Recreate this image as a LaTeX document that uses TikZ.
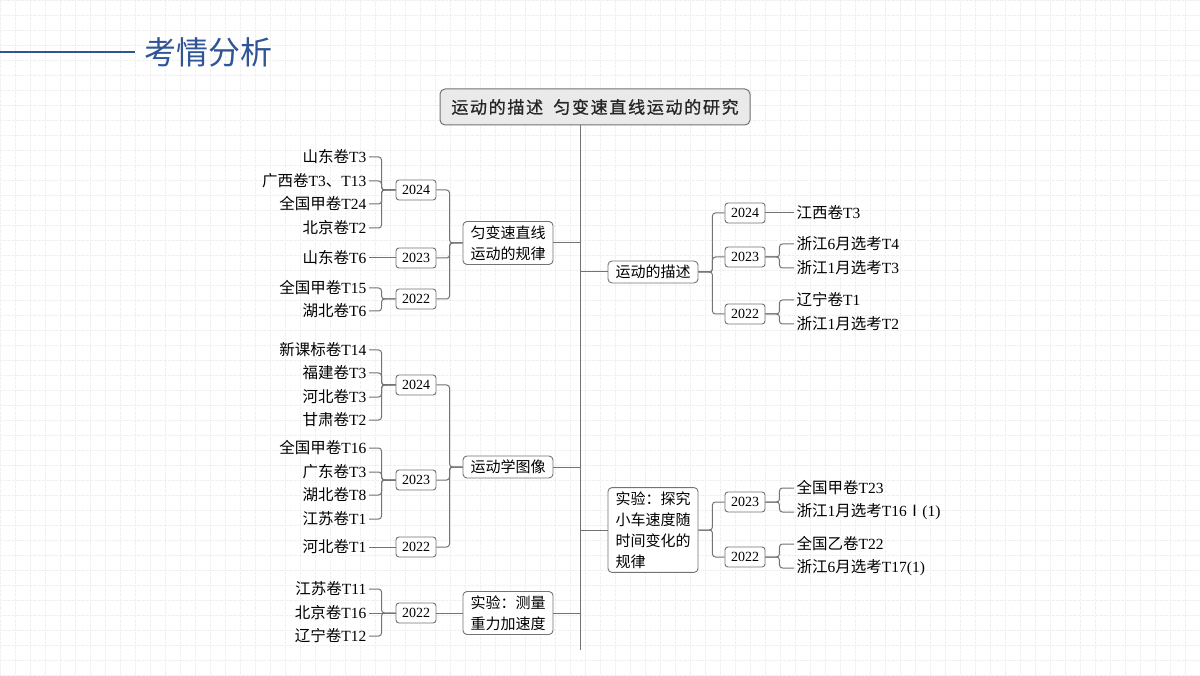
\documentclass[tikz,border=0pt]{standalone}
\usepackage{fontspec}
\setmainfont{Liberation Serif}
\newfontfamily\cjk{Noto Sans CJK SC}
\newfontfamily\cjkroot[LetterSpace=10, FakeBold=1]{Noto Sans CJK SC}
\usetikzlibrary{positioning}
\usetikzlibrary{calc}

\newcommand\zh[1]{{\cjk #1}}
\definecolor{titleblue}{RGB}{47,85,151}
\definecolor{linegray}{RGB}{115,115,115}
\definecolor{rootfill}{RGB}{234,234,234}

\tikzset{
    titletext/.style={font=\cjk\fontsize{32}{36}\selectfont, text=titleblue, inner sep=4pt},
    rootbox/.style={draw=linegray, fill=rootfill, rounded corners=5pt, line width=1pt,
        font=\cjkroot\fontsize{17}{20}\selectfont, text=black!85, minimum width=310pt, minimum height=36pt},
    mainbox/.style={draw=linegray, fill=white, rounded corners=4pt, line width=0.9pt,
        font=\cjk\fontsize{15}{21}\selectfont, align=left, minimum width=90pt, inner xsep=6pt, inner ysep=4pt},
    yearbox/.style={draw=linegray, fill=white, rounded corners=3pt, line width=0.9pt,
        font=\fontsize{14}{16}\selectfont, minimum width=40pt, minimum height=20pt, inner sep=1pt},
    leaf/.style={font=\fontsize{15.5}{17}\selectfont, inner ysep=1pt, inner xsep=2.5pt},
    link/.style={draw=linegray, line width=1pt, rounded corners=3pt},
}

\begin{document}
\begin{tikzpicture}[x=1pt, y=-1pt]
        % Page and faint grid
        \useasboundingbox (0,0) rectangle (1200,676);
        \fill[white] (0,0) rectangle (1200,676);
        \draw[black!6, line width=0.3pt, densely dotted, step=15pt] (0,0) grid (1200,676);

        % Title
        \node[titletext, anchor=west] (title) at (140,52) {考情分析};
        \draw[titleblue, line width=1.5pt, shorten >=5pt] (0,52) -- (title.west);

        % Root and trunk
        \node[rootbox] (root) at (595,107) {运动的描述\hspace{0.6em}匀变速直线运动的研究};
        \coordinate (trunkend) at (580,650);
        \draw[link] (root.south -| trunkend) -- (trunkend);

        % Left 1: uniformly accelerated motion
        \begin{scope}
            \node[mainbox] (gui) at (508,243) {匀变速直线\\运动的规律};
            \draw[link] (gui.east) -- (gui.east -| trunkend);
            \node[yearbox] (gui24) at (416,190) {2024};
            \node[yearbox] (gui23) at (416,258) {2023};
            \node[yearbox] (gui22) at (416,299) {2022};
            \foreach \yr in {gui24,gui23,gui22}
                \draw[link] (gui.west) -- ++(-13,0) |- (\yr.east);
            \foreach \yr/\lf/\y/\kind/\txt in {
                gui24/ga/157/b/{\zh{山东卷}T3},
                gui24/gb/181/b/{\zh{广西卷}T3\zh{、}T13},
                gui24/gc/204/b/{\zh{全国甲卷}T24},
                gui24/gd/228/b/{\zh{北京卷}T2},
                gui23/ge/258/s/{\zh{山东卷}T6},
                gui22/gf/288/b/{\zh{全国甲卷}T15},
                gui22/gg/311/b/{\zh{湖北卷}T6}} {
                \node[leaf, anchor=east] (\lf) at (369,\y) {\txt};
                \if\kind b \draw[link] (\yr.west) -- ++(-14,0) |- (\lf.east);
                \else \draw[link] (\yr.west) -- (\lf.east); \fi
            }
        \end{scope}

        % Left 2: motion graphs
        \begin{scope}
            \node[mainbox] (tux) at (508,467) {运动学图像};
            \draw[link] (tux.east) -- (tux.east -| trunkend);
            \node[yearbox] (tux24) at (416,385) {2024};
            \node[yearbox] (tux23) at (416,480) {2023};
            \node[yearbox] (tux22) at (416,547) {2022};
            \foreach \yr in {tux24,tux23,tux22}
                \draw[link] (tux.west) -- ++(-13,0) |- (\yr.east);
            \foreach \yr/\lf/\y/\kind/\txt in {
                tux24/ta/350/b/{\zh{新课标卷}T14},
                tux24/tb/373/b/{\zh{福建卷}T3},
                tux24/tc/397/b/{\zh{河北卷}T3},
                tux24/td/420/b/{\zh{甘肃卷}T2},
                tux23/te/448/b/{\zh{全国甲卷}T16},
                tux23/tf/472/b/{\zh{广东卷}T3},
                tux23/tg/495/b/{\zh{湖北卷}T8},
                tux23/th/519/b/{\zh{江苏卷}T1},
                tux22/ti/547/s/{\zh{河北卷}T1}} {
                \node[leaf, anchor=east] (\lf) at (369,\y) {\txt};
                \if\kind b \draw[link] (\yr.west) -- ++(-14,0) |- (\lf.east);
                \else \draw[link] (\yr.west) -- (\lf.east); \fi
            }
        \end{scope}

        % Left 3: measuring g
        \begin{scope}
            \node[mainbox] (cel) at (508,613) {实验：测量\\重力加速度};
            \draw[link] (cel.east) -- (cel.east -| trunkend);
            \node[yearbox] (cel22) at (416,613) {2022};
            \draw[link] (cel.west) -- (cel22.east);
            \foreach \yr/\lf/\y/\kind/\txt in {
                cel22/ca/589/b/{\zh{江苏卷}T11},
                cel22/cb/613/s/{\zh{北京卷}T16},
                cel22/cc/636/b/{\zh{辽宁卷}T12}} {
                \node[leaf, anchor=east] (\lf) at (369,\y) {\txt};
                \if\kind b \draw[link] (\yr.west) -- ++(-14,0) |- (\lf.east);
                \else \draw[link] (\yr.west) -- (\lf.east); \fi
            }
        \end{scope}

        % Right 1: description of motion
        \begin{scope}
            \node[mainbox] (miao) at (653,272) {运动的描述};
            \draw[link] (miao.west -| trunkend) -- (miao.west);
            \node[yearbox] (miao24) at (745,213) {2024};
            \node[yearbox] (miao23) at (745,257) {2023};
            \node[yearbox] (miao22) at (745,314) {2022};
            \foreach \yr in {miao24,miao23,miao22}
                \draw[link] (miao.east) -- ++(14,0) |- (\yr.west);
            \foreach \yr/\lf/\y/\kind/\txt in {
                miao24/ma/213/s/{\zh{江西卷}T3},
                miao23/mb/244/b/{\zh{浙江}6\zh{月选考}T4},
                miao23/mc/268/b/{\zh{浙江}1\zh{月选考}T3},
                miao22/md/300/b/{\zh{辽宁卷}T1},
                miao22/me/324/b/{\zh{浙江}1\zh{月选考}T2}} {
                \node[leaf, anchor=west] (\lf) at (794,\y) {\txt};
                \if\kind b \draw[link] (\yr.east) -- ++(14,0) |- (\lf.west);
                \else \draw[link] (\yr.east) -- (\lf.west); \fi
            }
        \end{scope}

        % Right 2: trolley experiment
        \begin{scope}
            \node[mainbox] (tan) at (653,530) {实验：探究\\小车速度随\\时间变化的\\规律};
            \draw[link] (tan.west -| trunkend) -- (tan.west);
            \node[yearbox] (tan23) at (745,502) {2023};
            \node[yearbox] (tan22) at (745,557) {2022};
            \foreach \yr in {tan23,tan22}
                \draw[link] (tan.east) -- ++(14,0) |- (\yr.west);
            \foreach \yr/\lf/\y/\txt in {
                tan23/sa/488/{\zh{全国甲卷}T23},
                tan23/sb/512/{\zh{浙江}1\zh{月选考}T16\zh{Ⅰ}(1)},
                tan22/sc/544/{\zh{全国乙卷}T22},
                tan22/sd/568/{\zh{浙江}6\zh{月选考}T17(1)}} {
                \node[leaf, anchor=west] (\lf) at (794,\y) {\txt};
                \draw[link] (\yr.east) -- ++(14,0) |- (\lf.west);
            }
        \end{scope}
\end{tikzpicture}
\end{document}
